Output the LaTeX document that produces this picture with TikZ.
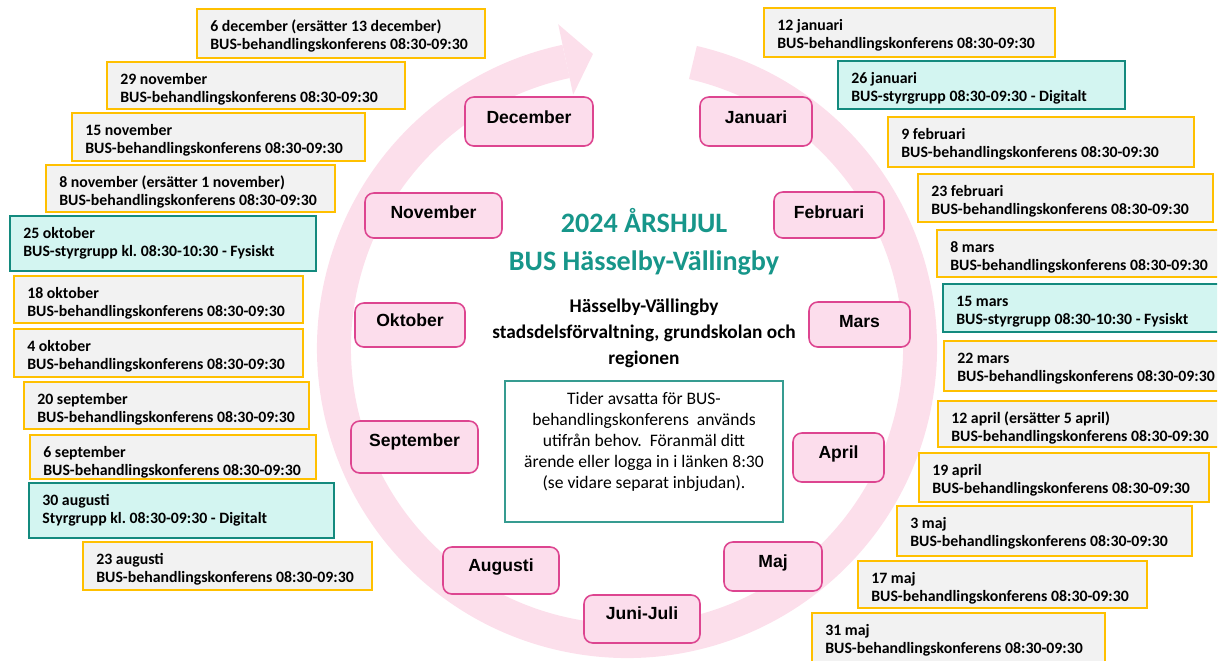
\documentclass[tikz,border=0pt]{standalone}
\usepackage{fontspec}
\setmainfont{Carlito}
\newfontfamily\arialfont{Liberation Sans}
\usetikzlibrary{fit}
\frenchspacing
\definecolor{ybord}{HTML}{FFC000}
\definecolor{gfill}{HTML}{F2F2F2}
\definecolor{tbord}{HTML}{138A7E}
\definecolor{tfill}{HTML}{D3F5F1}
\definecolor{mbord}{HTML}{DD4590}
\definecolor{mfill}{HTML}{FCDDEC}
\definecolor{ringc}{HTML}{FCDFEB}
\definecolor{titlec}{HTML}{17968A}
\newcommand\mkdbox[8]{%
  \node[#2, fit={(#3,#4) (#5,#6)}] (#1) {};
  \node[dtext] (#1t) at (#3+13,#4+40.4) {#7\\#8};
}
\newcommand\mkmonth[7]{%
  \node[month, fit={(#2,#3) (#4,#5)}] (#1) {};
  \node[mtext] (#1t) at ({(#2+#4)/2},#7+6) {#6};
}
\begin{document}
\begin{tikzpicture}[x=0.02cm,y=-0.02cm,
  ybox/.style={draw=ybord, fill=gfill, line width=1.4pt, inner sep=0pt},
  tbox/.style={draw=tbord, fill=tfill, line width=1.4pt, inner sep=0pt},
  dtext/.style={anchor=base west, align=left, inner sep=0pt, font=\fontsize{9}{10.4}\selectfont\bfseries},
  month/.style={draw=mbord, fill=mfill, line width=0.9pt, rounded corners=5pt, inner sep=0pt},
  mtext/.style={anchor=base, inner sep=0pt, font=\arialfont\bfseries\fontsize{10}{12}\selectfont},
  ttl/.style={anchor=base, inner sep=0pt, text=titlec, font=\fontsize{16}{19}\selectfont\bfseries},
  sub/.style={anchor=base, inner sep=0pt, font=\fontsize{11}{14.7}\selectfont\bfseries},
  info/.style={anchor=base, inner sep=0pt, font=\fontsize{10}{11.9}\selectfont}
]
\useasboundingbox (0,0) rectangle (1223,660);
\clip (0,0) rectangle (1217,660);
% ring arrow
\coordinate (c) at (627,348);
\draw[ringc, line width=0.68cm] ([shift={(-77:293)}]c) arc[start angle=-77, end angle=258, radius=293];
\fill[ringc] ([shift={(258:259)}]c) -- ([shift={(258:331)}]c) -- ([shift={(263.4:296)}]c) -- cycle;
% month boxes
\mkmonth{dec}{465}{97}{593}{146}{December}{117}
\mkmonth{jan}{700}{97}{812}{146}{Januari}{117}
\mkmonth{nov}{365}{193}{502}{238}{November}{212}
\mkmonth{feb}{774}{192}{884}{238}{Februari}{212}
\mkmonth{okt}{355}{303}{465}{347}{Oktober}{320}
\mkmonth{mar}{809}{302}{910}{347}{Mars}{321}
\mkmonth{sep}{351}{421}{478}{473}{September}{440}
\mkmonth{apr}{793}{433}{884}{482}{April}{452}
\mkmonth{aug}{443}{547}{559}{594}{Augusti}{565}
\mkmonth{maj}{724}{542}{822}{591}{Maj}{561}
\mkmonth{jun}{584}{595}{700}{643}{Juni-Juli}{613}
% centre texts
\node[ttl] (t1) at (644,232) {2024 ÅRSHJUL};
\node[ttl] (t2) at (644,270) {BUS Hässelby-Vällingby};
\node[sub] (s1) at (644,312) {Hässelby-Vällingby};
\node[sub] (s2) at (644,338) {stadsdelsförvaltning, grundskolan och};
\node[sub] (s3) at (644,364) {regionen};
\node[draw=tbord!85, line width=0.6pt, fill=white, inner sep=0pt, fit={(505,381) (783,522)}] (ib) {};
\node[info] (i1) at (644,404) {Tider avsatta för BUS-};
\node[info] (i2) at (644,425) {behandlingskonferens\ \ används};
\node[info] (i3) at (644,446) {utifrån behov.\ \ Föranmäl ditt};
\node[info] (i4) at (644,467) {ärende eller logga in i länken 8:30};
\node[info] (i5) at (644,488) {(se vidare separat inbjudan).};
% date boxes left
\def\bk{BUS-behandlingskonferens 08:30-09:30}
\mkdbox{d1}{ybox}{197}{9}{485}{58}{6 december (ersätter 13 december)}{\bk}
\mkdbox{d2}{ybox}{107}{62}{405}{109}{29 november}{\bk}
\mkdbox{d3}{ybox}{72}{113}{365}{161}{15 november}{\bk}
\mkdbox{d4}{ybox}{46}{165}{335}{212}{8 november (ersätter 1 november)}{\bk}
\mkdbox{d5}{tbox}{10}{216}{316}{271}{25 oktober}{BUS-styrgrupp kl. 08:30-10:30 - Fysiskt}
\mkdbox{d6}{ybox}{14}{276}{303}{323}{18 oktober}{\bk}
\mkdbox{d7}{ybox}{14}{329}{303}{377}{4 oktober}{\bk}
\mkdbox{d8}{ybox}{24}{382}{309}{429}{20 september}{\bk}
\mkdbox{d9}{ybox}{30}{435}{316}{479}{6 september}{\bk}
\mkdbox{d10}{tbox}{29}{483}{334}{538}{30 augusti}{Styrgrupp kl. 08:30-09:30 - Digitalt}
\mkdbox{d11}{ybox}{83}{542}{372}{590}{23 augusti}{\bk}
% date boxes right
\mkdbox{e1}{ybox}{764}{8}{1055}{57}{12 januari}{\bk}
\mkdbox{e2}{tbox}{838}{61}{1125}{109}{26 januari}{BUS-styrgrupp 08:30-09:30 - Digitalt}
\mkdbox{e3}{ybox}{888}{117}{1194}{167}{9 februari}{\bk}
\mkdbox{e4}{ybox}{918}{174}{1213}{222}{23 februari}{\bk}
\mkdbox{e5}{ybox}{937}{230}{1240}{277}{8 mars}{\bk}
\mkdbox{e6}{tbox}{943}{284}{1240}{332}{15 mars}{BUS-styrgrupp 08:30-10:30 - Fysiskt}
\mkdbox{e7}{ybox}{944}{341}{1240}{391}{22 mars}{\bk}
\mkdbox{e8}{ybox}{938}{401}{1240}{447}{12 april (ersätter 5 april)}{\bk}
\mkdbox{e9}{ybox}{919}{453}{1209}{502}{19 april}{\bk}
\mkdbox{e10}{ybox}{897}{506}{1192}{556}{3 maj}{\bk}
\mkdbox{e11}{ybox}{858}{561}{1147}{608}{17 maj}{\bk}
\mkdbox{e12}{ybox}{812}{613}{1105}{672}{31 maj}{\bk}
\end{tikzpicture}
\end{document}
